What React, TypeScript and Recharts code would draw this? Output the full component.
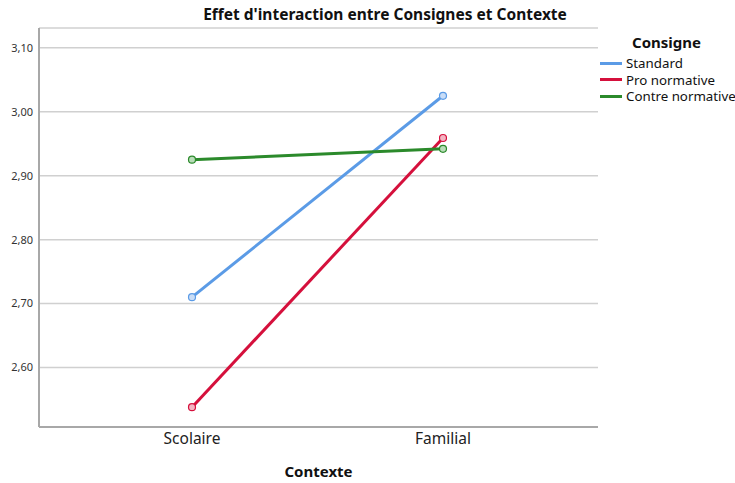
import React from "react";
import { LineChart, Line, XAxis, YAxis, CartesianGrid } from "recharts";

const contextes = ["Scolaire", "Familial"];
const standard = [2.71, 3.025];
const proNormative = [2.538, 2.959];
const contreNormative = [2.925, 2.942];
const yTicks = [2.6, 2.7, 2.8, 2.9, 3.0, 3.1];

const SERIES = [
  { key: "Standard", values: standard, color: "#5B9BE6", fill: "#C9DDF7" },
  { key: "Pro normative", values: proNormative, color: "#D5103C", fill: "#F3B5C3" },
  { key: "Contre normative", values: contreNormative, color: "#2B8A2B", fill: "#B8DCB8" },
];

const FONT = '"Noto Sans", "Open Sans", sans-serif';

const data = contextes.map((c, i) => {
  const row: Record<string, string | number> = { contexte: c };
  SERIES.forEach((s) => {
    row[s.key] = s.values[i];
  });
  return row;
});

const fmt = (v: number) => v.toFixed(2).replace(".", ",");

function LegendBox() {
  return (
    <div style={{ position: "absolute", left: 600, top: 33, fontFamily: FONT, color: "#111", whiteSpace: "nowrap" }}>
      <div style={{ fontWeight: "bold", fontSize: 15, marginLeft: 32, lineHeight: "18px", marginBottom: 4 }}>Consigne</div>
      {SERIES.map((s) => (
        <div key={s.key} style={{ display: "flex", alignItems: "center", height: 16.5, fontSize: 13.3 }}>
          <span style={{ width: 22, height: 3, backgroundColor: s.color, marginRight: 4 }} />
          <span>{s.key}</span>
        </div>
      ))}
    </div>
  );
}

export default function App() {
  return (
    <div style={{ position: "absolute", left: 0, top: 0, width: 735, height: 483, background: "#fff" }}>
      <div
        style={{
          position: "absolute",
          top: 3,
          left: 165,
          width: 440,
          textAlign: "center",
          fontFamily: FONT,
          fontWeight: "bold",
          fontSize: 15.5,
          color: "#111",
          whiteSpace: "nowrap",
        }}
      >
        Effet d'interaction entre Consignes et Contexte
      </div>
      <LineChart
        width={735}
        height={483}
        data={data}
        margin={{ top: 28, right: 137, bottom: 0, left: 0 }}
        style={{ fontFamily: FONT }}
      >
        <CartesianGrid vertical={false} stroke="#D0D0D0" strokeWidth={1.5} />
        <XAxis
          dataKey="contexte"
          padding={{ left: 153, right: 155 }}
          height={56}
          axisLine={{ stroke: "#A8A8A8", strokeWidth: 2 }}
          tickLine={false}
          tickSize={0}
          tickMargin={6}
          tick={{ fontSize: 15.5, fill: "#222" }}
          label={{
            value: "Contexte",
            position: "insideBottom",
            offset: 6,
            style: { fontWeight: "bold", fontSize: 15, fill: "#111" },
          }}
        />
        <YAxis
          width={39}
          domain={[2.507, 3.131]}
          ticks={yTicks}
          allowDataOverflow
          tickFormatter={fmt}
          axisLine={{ stroke: "#A8A8A8", strokeWidth: 2 }}
          tickLine={false}
          tickSize={0}
          tickMargin={6}
          tick={{ fontSize: 11, fill: "#333" }}
        />
        {SERIES.map((s) => (
          <Line
            key={s.key}
            dataKey={s.key}
            stroke={s.color}
            strokeWidth={3}
            dot={{ r: 3.5, stroke: s.color, strokeWidth: 1.2, fill: s.fill }}
            activeDot={false}
            isAnimationActive={false}
          />
        ))}
      </LineChart>
      <LegendBox />
    </div>
  );
}
